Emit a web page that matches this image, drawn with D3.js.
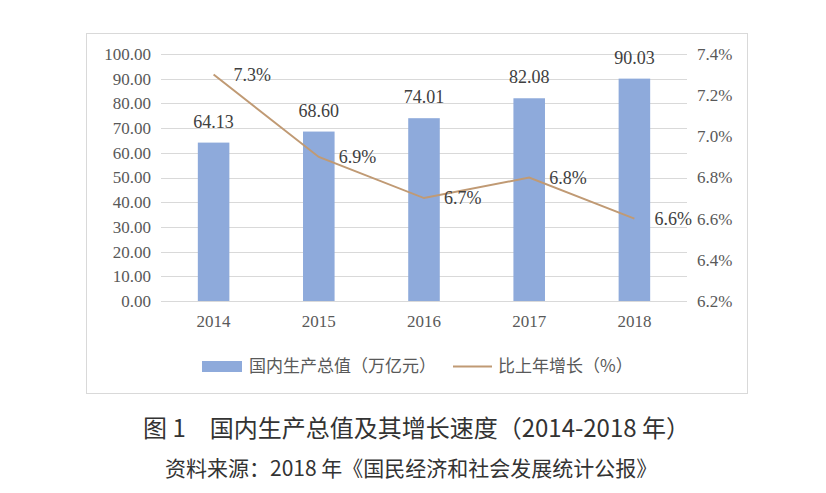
<!DOCTYPE html>
<html>
<head>
<meta charset="utf-8">
<script src="https://cdn.jsdelivr.net/npm/d3@7"></script>
<style>
  body { margin: 0; background: #fff; }
  svg { display: block; }
</style>
</head>
<body>
<div class="chart"></div>
<script>
'use strict';

// values
var years = ['2014', '2015', '2016', '2017', '2018'];
var gdp = [64.13, 68.60, 74.01, 82.08, 90.03];          // 万亿元
var growth = [7.3, 6.9, 6.7, 6.8, 6.6];                 // %
var gdpTicks = [0, 10, 20, 30, 40, 50, 60, 70, 80, 90, 100];
var growthTicks = [6.2, 6.4, 6.6, 6.8, 7.0, 7.2, 7.4];
var legendNames = ['国内生产总值（万亿元）', '比上年增长（%）'];
var captionText = '图 1　国内生产总值及其增长速度（2014-2018 年）';
var sourceText = '资料来源：2018 年《国民经济和社会发展统计公报》';

var width = 826, height = 493;
var plot = {x0: 161, x1: 687, y0: 54, y1: 301};

var barColor = '#8eaadb', lineColor = '#c09a74';
var serif = '"Liberation Serif", "Times New Roman", serif';
var cjk = '"Noto Sans CJK SC", sans-serif';

var svg = d3.select('.chart').append('svg')
    .attr('width', width)
    .attr('height', height);

// chart frame
svg.append('rect')
    .attr('x', 86.5).attr('y', 33.5)
    .attr('width', 661).attr('height', 360)
    .attr('fill', '#fff')
    .attr('stroke', '#d9d9d9');

var x = d3.scaleBand()
    .domain(years)
    .range([plot.x0, plot.x1])
    .paddingInner(0.7)
    .paddingOuter(0.35);

var y = d3.scaleLinear().domain([0, 100]).range([plot.y1, plot.y0]);
var y2 = d3.scaleLinear().domain([6.2, 7.4]).range([plot.y1, plot.y0]);

// grid
svg.append('g').selectAll('line')
    .data(gdpTicks)
  .enter().append('line')
    .attr('x1', plot.x0).attr('x2', plot.x1)
    .attr('y1', function(d) { return Math.round(y(d)) + 0.5; })
    .attr('y2', function(d) { return Math.round(y(d)) + 0.5; })
    .attr('stroke', '#d9d9d9')
    .attr('stroke-width', 1);

// left axis
var left = svg.append('g')
    .attr('transform', 'translate(' + (plot.x0 - 10) + ',0)')
    .call(d3.axisLeft(y).tickValues(gdpTicks).tickSize(0).tickPadding(0)
      .tickFormat(d3.format('.2f')));
left.select('.domain').remove();
left.selectAll('text')
    .attr('font-family', serif).attr('font-size', 17).attr('fill', '#595959');

// right axis
var right = svg.append('g')
    .attr('transform', 'translate(' + (plot.x1 + 10) + ',0)')
    .call(d3.axisRight(y2).tickValues(growthTicks).tickSize(0).tickPadding(0)
      .tickFormat(d3.format('.1f')));
right.select('.domain').remove();
right.selectAll('text')
    .text(function(d) { return d3.format('.1f')(d) + '%'; })
    .attr('font-family', serif).attr('font-size', 17).attr('fill', '#595959');

// bottom axis
var bottom = svg.append('g')
    .attr('transform', 'translate(0,' + (plot.y1 + 14) + ')')
    .call(d3.axisBottom(x).tickSize(0).tickPadding(0));
bottom.select('.domain').remove();
bottom.selectAll('text')
    .attr('font-family', serif).attr('font-size', 17).attr('fill', '#595959');

// bars
svg.append('g').selectAll('rect')
    .data(gdp)
  .enter().append('rect')
    .attr('x', function(d, i) { return x(years[i]); })
    .attr('y', function(d) { return y(d); })
    .attr('width', x.bandwidth())
    .attr('height', function(d) { return y(0) - y(d); })
    .attr('fill', barColor);

svg.append('g').selectAll('text')
    .data(gdp)
  .enter().append('text')
    .attr('x', function(d, i) { return x(years[i]) + x.bandwidth() / 2; })
    .attr('y', function(d) { return y(d) - 15; })
    .attr('text-anchor', 'middle')
    .attr('font-family', serif).attr('font-size', 18).attr('fill', '#404040')
    .text(function(d) { return d3.format('.2f')(d); });

// growth line
var cx = function(i) { return x(years[i]) + x.bandwidth() / 2; };
var line = d3.line()
    .x(function(d, i) { return cx(i); })
    .y(function(d) { return y2(d); });

svg.append('path')
    .datum(growth)
    .attr('d', line)
    .attr('fill', 'none')
    .attr('stroke', lineColor)
    .attr('stroke-width', 2);

svg.append('g').selectAll('text')
    .data(growth)
  .enter().append('text')
    .attr('x', function(d, i) { return cx(i) + 20; })
    .attr('y', function(d) { return y2(d) + 6; })
    .attr('font-family', serif).attr('font-size', 18).attr('fill', '#404040')
    .text(function(d) { return d3.format('.1f')(d) + '%'; });

// legend
var legend = svg.append('g').attr('transform', 'translate(0,366)');
legend.append('rect')
    .attr('x', 202).attr('y', -5).attr('width', 40).attr('height', 11)
    .attr('fill', barColor);
legend.append('text')
    .attr('x', 249).attr('y', 6)
    .attr('font-family', cjk).attr('font-size', 17).attr('fill', '#595959')
    .text(legendNames[0]);
legend.append('line')
    .attr('x1', 453).attr('x2', 492).attr('y1', 0.5).attr('y2', 0.5)
    .attr('stroke', lineColor).attr('stroke-width', 2);
legend.append('text')
    .attr('x', 498).attr('y', 6)
    .attr('font-family', cjk).attr('font-size', 17).attr('fill', '#595959')
    .text(legendNames[1]);

// caption
svg.append('text')
    .attr('x', 143).attr('y', 437)
    .attr('font-family', cjk).attr('font-size', 24).attr('fill', '#333')
    .text(captionText);
svg.append('text')
    .attr('x', 165).attr('y', 476)
    .attr('font-family', cjk).attr('font-size', 21).attr('fill', '#333')
    .text(sourceText);
</script>
</body>
</html>
